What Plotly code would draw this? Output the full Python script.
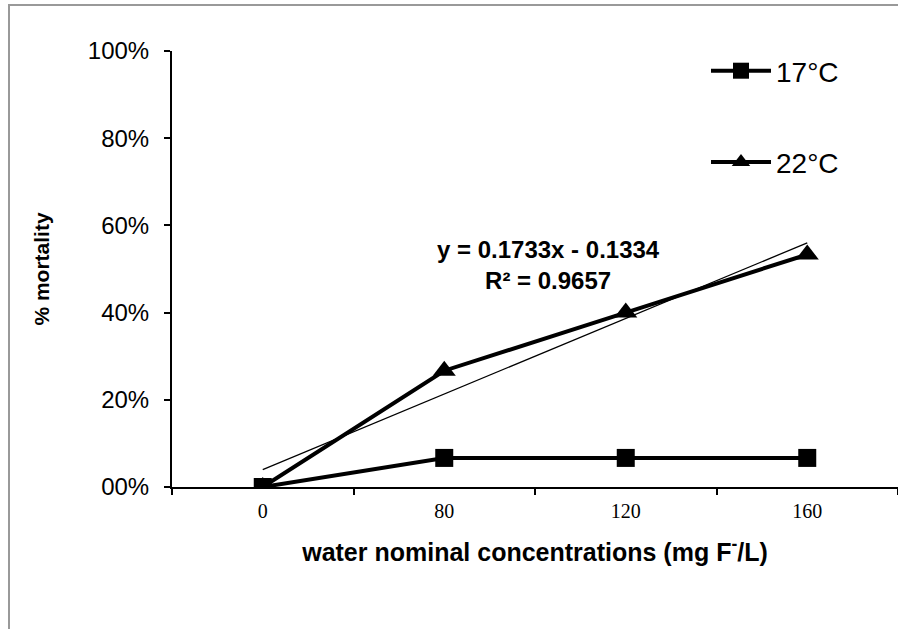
import numpy as np
import plotly.graph_objects as go

categories = ["0", "80", "120", "160"]
mort_17 = [0.0, 0.0667, 0.0667, 0.0667]
mort_22 = [0.0, 0.2667, 0.40, 0.5333]
y_tickvals = [0, 0.2, 0.4, 0.6, 0.8, 1.0]
y_ticktext = ["00%", "20%", "40%", "60%", "80%", "100%"]

W, H = 898, 629
L, R, T, B = 172, 0, 51, 142
pw, ph = W - L - R, H - T - B

# linear trend on 22°C (Excel style, x = 1..n)
xi = np.arange(1, len(categories) + 1)
slope, intercept = np.polyfit(xi, mort_22, 1)
trend_y = slope * xi + intercept
r2 = np.corrcoef(xi, mort_22)[0, 1] ** 2

fig = go.Figure()
fig.add_trace(go.Scatter(
    x=categories, y=list(trend_y), mode="lines",
    line=dict(color="black", width=1.3), showlegend=False, hoverinfo="skip"))
fig.add_trace(go.Scatter(
    x=categories, y=mort_22, mode="lines+markers", name="22°C",
    line=dict(color="black", width=4),
    marker=dict(symbol="triangle-up", size=20, color="black"),
    legendgroup="b", legendrank=2))
fig.add_trace(go.Scatter(
    x=categories, y=mort_17, mode="lines+markers", name="17°C",
    line=dict(color="black", width=4),
    marker=dict(symbol="square", size=18, color="black"),
    legendgroup="a", legendrank=1))

fig.add_annotation(
    x=(548 - L) / pw, y=(487 - 265) / ph, xref="paper", yref="paper",
    text="y = 0.1733x - 0.1334<br>R² = %.4f" % r2,
    showarrow=False, align="center",
    font=dict(family="Liberation Sans", size=24, color="black", weight="bold"))

# outer chart-area border (top and left visible)
fig.add_shape(type="rect", xref="paper", yref="paper",
              x0=(9 - L) / pw, x1=1.05, y0=-0.4, y1=(487 - 5) / ph,
              line=dict(color="#999999", width=2), layer="below")

fig.update_layout(
    width=W, height=H,
    margin=dict(l=L, r=R, t=T, b=B, pad=0),
    paper_bgcolor="white", plot_bgcolor="white",
    font=dict(family="Liberation Sans", color="black"),
    showlegend=True,
    legend=dict(x=(706 - L) / pw, y=(487 - 46) / ph, xanchor="left", yanchor="top",
                traceorder="grouped", tracegroupgap=52, itemwidth=60,
                font=dict(family="Liberation Sans", size=28, color="black"),
                bgcolor="rgba(0,0,0,0)"),
    xaxis=dict(
        type="category", range=[-0.5, 3.5],
        showline=True, linecolor="black", linewidth=2,
        ticks="outside", tickson="boundaries", ticklen=6, tickwidth=2, tickcolor="black",
        ticklabelstandoff=5,
        showgrid=False, zeroline=False,
        tickfont=dict(family="Liberation Serif", size=20, color="black"),
        title=dict(text="water nominal concentrations (mg F<sup>-</sup>/L)",
                   font=dict(family="Liberation Sans", size=25, color="black", weight="bold"),
                   standoff=22),
    ),
    yaxis=dict(
        range=[0, 1], tickvals=y_tickvals, ticktext=y_ticktext,
        showline=True, linecolor="black", linewidth=2,
        ticks="outside", ticklen=6, tickwidth=2, tickcolor="black",
        ticklabelstandoff=10,
        showgrid=False, zeroline=False,
        tickfont=dict(family="Liberation Sans", size=24, color="black"),
        title=dict(text="% mortality",
                   font=dict(family="Liberation Sans", size=21, color="black", weight="bold"),
                   standoff=32),
    ),
)

fig.write_html("out.html", config={"displayModeBar": False},
               post_script="document.body.style.margin='0px';")
